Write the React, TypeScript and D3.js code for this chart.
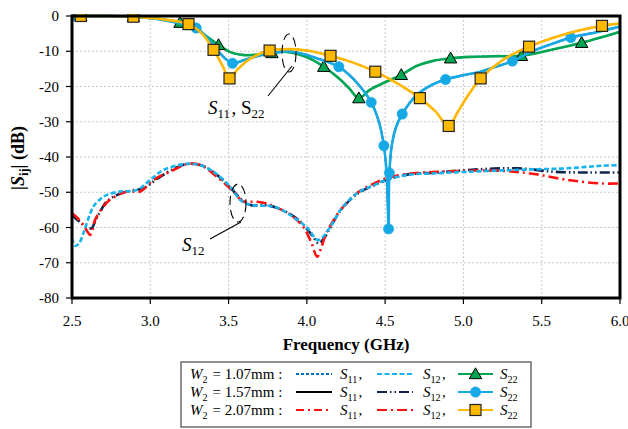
import React from "react";
import * as d3 from "d3";

// Reflection / transmission data, frequency in GHz, magnitude in dB
type Pt = [number, number];

const xTicks = [2.5, 3.0, 3.5, 4.0, 4.5, 5.0, 5.5, 6.0];
const yTicks = [0, -10, -20, -30, -40, -50, -60, -70, -80];

// S22 (S11 follows the same trace), W2 = 1.07 mm
const s22W107: Pt[] = [
  [2.5, 0], [2.556, 0], [2.7, 0], [2.892, -0.2], [3.05, -0.8], [3.19, -1.9], [3.3, -4],
  [3.436, -8.2], [3.52, -10.4], [3.6, -11.1], [3.7, -10.9], [3.777, -10.5], [3.85, -10.1],
  [3.95, -10.9], [4.03, -12.3], [4.108, -14.4], [4.2, -17.5], [4.27, -20.5], [4.332, -23.3],
  [4.4, -21], [4.5, -18.8], [4.603, -16.7], [4.7, -14.2], [4.8, -12.8], [4.918, -12],
  [5.05, -11.6], [5.2, -11.4], [5.371, -11.3], [5.55, -9.7], [5.755, -7.6], [5.9, -5.8], [6.0, -4.5],
];
const s22W107Markers = [2.556, 2.892, 3.19, 3.436, 3.777, 4.108, 4.332, 4.603, 4.918, 5.371, 5.755];

// W2 = 1.57 mm
const s22W157: Pt[] = [
  [2.5, 0], [2.52, 0], [2.7, 0], [2.892, -0.2], [3.05, -0.9], [3.18, -2], [3.293, -3.4],
  [3.38, -7], [3.45, -10.8], [3.525, -13.4], [3.6, -12.5], [3.7, -11.2], [3.8, -10.4],
  [3.88, -10], [3.95, -10.5], [4.05, -11.8], [4.204, -14.4], [4.3, -18], [4.411, -24.5],
  [4.46, -30], [4.492, -36.8], [4.51, -45], [4.522, -60.4], [4.527, -44.5], [4.545, -36],
  [4.57, -31.5], [4.609, -27.8], [4.7, -22.5], [4.8, -19.5], [4.886, -18], [5.0, -16.8],
  [5.11, -15.8], [5.2, -14.5], [5.313, -12.8], [5.45, -9.8], [5.6, -7.4], [5.686, -6.1],
  [5.85, -4.6], [6.0, -3.0],
];
const s22W157Markers = [2.52, 3.293, 3.525, 4.204, 4.411, 4.492, 4.522, 4.527, 4.609, 4.886, 5.313, 5.686];

// W2 = 2.07 mm
const s22W207: Pt[] = [
  [2.5, 0], [2.556, 0], [2.7, 0], [2.892, -0.2], [3.05, -0.8], [3.244, -2.3], [3.33, -5],
  [3.404, -9.6], [3.46, -14], [3.506, -17.7], [3.56, -15], [3.65, -11.8], [3.762, -9.8],
  [3.9, -9.4], [4.0, -9.8], [4.151, -11.3], [4.3, -13.3], [4.437, -15.8], [4.58, -19.2],
  [4.722, -23.3], [4.82, -27], [4.906, -31.2], [4.96, -27.5], [5.03, -22.5], [5.11, -17.7],
  [5.25, -12.5], [5.419, -8.7], [5.6, -5.8], [5.75, -4], [5.885, -2.8], [6.0, -2.1],
];
const s22W207Markers = [2.556, 2.892, 3.244, 3.404, 3.506, 3.762, 4.151, 4.437, 4.722, 4.906, 5.11, 5.419, 5.885];

// S12
const s12W107: Pt[] = [
  [2.5, -63], [2.52, -65.2], [2.545, -64.5], [2.572, -61.7], [2.6, -58], [2.636, -54.1],
  [2.68, -52], [2.72, -50.8], [2.807, -49.8], [2.914, -49.4], [3.0, -46.5], [3.084, -43.7],
  [3.212, -42], [3.276, -42], [3.33, -42.5], [3.404, -44.2], [3.51, -48.4], [3.575, -52.2],
  [3.64, -53.6], [3.79, -54.1], [3.895, -56.5], [4.0, -60], [4.066, -63.5], [4.09, -63.2],
  [4.15, -59.8], [4.215, -55], [4.32, -50.3], [4.428, -48], [4.51, -46.5], [4.64, -45.1],
  [4.83, -44.6], [5.025, -44.2], [5.25, -43.8], [5.45, -43.5], [5.665, -43.2], [5.878, -42.5],
  [6.0, -42.3],
];
const s12W157: Pt[] = [
  [2.5, -56.5], [2.56, -58.8], [2.6, -60], [2.626, -60.2], [2.65, -58], [2.68, -55.5],
  [2.72, -52.7], [2.786, -50.8], [2.87, -49.6], [2.956, -48.9], [3.05, -46], [3.148, -43.4],
  [3.234, -42], [3.32, -42.3], [3.404, -44.3], [3.51, -48.6], [3.58, -52], [3.64, -53.6],
  [3.75, -53.7], [3.85, -55.2], [3.95, -58], [4.03, -62], [4.076, -64.5], [4.11, -63],
  [4.15, -60], [4.215, -55.2], [4.32, -50.5], [4.43, -48], [4.51, -46.5], [4.64, -45],
  [4.83, -44.4], [5.025, -43.7], [5.345, -43.2], [5.58, -44.2], [5.8, -44.4], [6.0, -44.4],
];
const s12W207: Pt[] = [
  [2.5, -56], [2.535, -57.3], [2.572, -59.3], [2.6, -61.3], [2.615, -62.1], [2.632, -60.5],
  [2.647, -57.9], [2.7, -54.1], [2.74, -52.2], [2.85, -49.8], [2.935, -49.8], [3.02, -46.5],
  [3.148, -43.7], [3.234, -42], [3.32, -42.3], [3.426, -45.6], [3.53, -49.8], [3.59, -52.5],
  [3.68, -52.7], [3.75, -53.3], [3.8, -54.2], [3.9, -56.5], [3.98, -60], [4.03, -64.5],
  [4.066, -68.3], [4.09, -66], [4.12, -62], [4.15, -59.5], [4.215, -55], [4.32, -50.2],
  [4.43, -47.5], [4.51, -46], [4.64, -44.8], [4.83, -44.2], [5.025, -43.9], [5.24, -43.9],
  [5.45, -44.8], [5.665, -46.5], [5.878, -47.5], [6.0, -47.5],
];

const widths = ["1.07", "1.57", "2.07"];

const FONT = "'Liberation Serif', 'Times New Roman', serif";
const W = 628;
const H = 429;
const M = { left: 72, right: 620, top: 16, bottom: 298 };

const x = d3.scaleLinear().domain([2.5, 6.0]).range([M.left, M.right]);
const y = d3.scaleLinear().domain([-80, 0]).range([M.bottom, M.top]);
const line = d3
  .line<Pt>()
  .x((d) => x(d[0]))
  .y((d) => y(d[1]))
  .curve(d3.curveCatmullRom.alpha(0.5));

const C = {
  green: "#00A651",
  blue: "#17A9E6",
  yellow: "#FFB900",
  dBlue: "#0070C0",
  lBlue: "#14B4F0",
  navy: "#0F2550",
  red: "#FF1010",
};

const styles = {
  s11: [
    { stroke: C.dBlue, dash: "3,2", w: 1.8 },
    { stroke: "#000", dash: undefined, w: 1.8 },
    { stroke: C.red, dash: "8,4,2,4", w: 1.8 },
  ],
  s12: [
    { stroke: C.lBlue, dash: "5,2.5", w: 2.6 },
    { stroke: C.navy, dash: "10,3,1.5,3,1.5,3", w: 2.6 },
    { stroke: C.red, dash: "10,4,2,4", w: 2.6 },
  ],
  s22: [
    { stroke: C.green, w: 2.6 },
    { stroke: C.blue, w: 2.6 },
    { stroke: C.yellow, w: 2.6 },
  ],
};

function Marker({ kind, cx, cy }: { kind: number; cx: number; cy: number }) {
  if (kind === 0) {
    const s = 6.2;
    const p = `M${cx},${cy - s} L${cx + s},${cy + s * 0.75} L${cx - s},${cy + s * 0.75} Z`;
    return <path d={p} fill={C.green} stroke="#000" strokeWidth={1} />;
  }
  if (kind === 1) return <circle cx={cx} cy={cy} r={5.2} fill={C.blue} stroke={C.blue} strokeWidth={0.5} />;
  return <rect x={cx - 5.5} y={cy - 5.5} width={11} height={11} fill={C.yellow} stroke="#222" strokeWidth={1.2} />;
}

function markerPoints(data: Pt[], freqs: number[]): Pt[] {
  return freqs.map((f) => data.find((d) => d[0] === f)!).filter(Boolean);
}

function Sub({ s, sub, italic = true, size = 0.68, shift = 4 }: { s: string; sub: string; italic?: boolean; size?: number; shift?: number }) {
  return (
    <>
      <tspan fontStyle={italic ? "italic" : "normal"}>{s}</tspan>
      <tspan dy={shift} fontSize={`${size}em`}>{sub}</tspan>
      <tspan dy={-shift}>{"\u200A"}</tspan>
    </>
  );
}

export default function App() {
  const s22 = [s22W107, s22W157, s22W207];
  const s22m = [s22W107Markers, s22W157Markers, s22W207Markers];
  const s12 = [s12W107, s12W157, s12W207];

  const legendRows = [379, 397, 415];

  return (
    <svg
      width={W}
      height={H}
      viewBox={`0 0 ${W} ${H}`}
      style={{ position: "absolute", left: 0, top: 0, background: "#fff" }}
      fontFamily={FONT}
    >
      <defs>
        <clipPath id="plotClip">
          <rect x={M.left} y={M.top - 2} width={M.right - M.left} height={M.bottom - M.top + 2} />
        </clipPath>
      </defs>

      {/* grid */}
      <g stroke="#c8c8c8" strokeWidth={1} strokeDasharray="2,2">
        {xTicks.slice(1, -1).map((t) => (
          <line key={`gx${t}`} x1={x(t)} x2={x(t)} y1={M.top} y2={M.bottom} />
        ))}
        {yTicks.slice(1, -1).map((t) => (
          <line key={`gy${t}`} x1={M.left} x2={M.right} y1={y(t)} y2={y(t)} />
        ))}
      </g>

      <g clipPath="url(#plotClip)" fill="none">
        {/* S11 traces lie beneath the matching S22 traces */}
        {s22.map((d, i) => (
          <path key={`s11${i}`} d={line(d)!} stroke={styles.s11[i].stroke} strokeWidth={styles.s11[i].w} strokeDasharray={styles.s11[i].dash} />
        ))}
        {/* S12 */}
        {[1, 2, 0].map((i) => (
          <path key={`s12${i}`} d={line(s12[i])!} stroke={styles.s12[i].stroke} strokeWidth={styles.s12[i].w} strokeDasharray={styles.s12[i].dash} />
        ))}
        {/* S22 with markers */}
        {s22.map((d, i) => (
          <g key={`s22${i}`}>
            <path d={line(d)!} stroke={styles.s22[i].stroke} strokeWidth={styles.s22[i].w} />
            {markerPoints(d, s22m[i]).map((p, k) => (
              <Marker key={k} kind={i} cx={x(p[0])} cy={y(p[1])} />
            ))}
          </g>
        ))}
      </g>

      {/* frame and ticks */}
      <rect x={M.left} y={M.top} width={M.right - M.left} height={M.bottom - M.top} fill="none" stroke="#000" strokeWidth={3} />
      <g stroke="#000" strokeWidth={1.2}>
        {yTicks.map((t) => (
          <line key={`ty${t}`} x1={M.left - 6} x2={M.left} y1={y(t)} y2={y(t)} />
        ))}
        {xTicks.map((t) => (
          <line key={`tx${t}`} x1={x(t)} x2={x(t)} y1={M.bottom} y2={M.bottom + 6} />
        ))}
      </g>
      <g fontSize={15} fill="#000">
        {yTicks.map((t) => (
          <text key={`ly${t}`} x={59} y={y(t) + 5} textAnchor="end">
            {t}
          </text>
        ))}
        {xTicks.map((t) => (
          <text key={`lx${t}`} x={x(t)} y={326} textAnchor="middle">
            {t.toFixed(1)}
          </text>
        ))}
      </g>

      {/* axis titles */}
      <text x={346} y={350} textAnchor="middle" fontSize={17} fontWeight="bold">
        Frequency (GHz)
      </text>
      <text transform="translate(24,158) rotate(-90)" textAnchor="middle" fontSize={18} fontWeight="bold">
        |<tspan fontStyle="italic">S</tspan>
        <tspan dy={4} fontSize="0.7em">ij</tspan>
        <tspan dy={-4}>| (dB)</tspan>
      </text>

      {/* annotations */}
      <g fill="none" stroke="#000" strokeWidth={1.1}>
        <ellipse cx={289} cy={53} rx={7} ry={19} strokeDasharray="9,5" />
        <line x1={292} y1={66} x2={268} y2={96} />
        <ellipse cx={238} cy={203} rx={8} ry={19} strokeDasharray="9,5" />
        <line x1={241} y1={222} x2={210} y2={239} />
      </g>
      <text x={208} y={114} fontSize={19}>
        <Sub s="S" sub="11" />
        <tspan>, </tspan>
        <Sub s="S" sub="22" italic={false} />
      </text>
      <text x={182} y={251} fontSize={19}>
        <Sub s="S" sub="12" />
      </text>

      {/* legend */}
      <rect x={181} y={362} width={350} height={65} fill="#fff" stroke="#555" strokeWidth={1.3} />
      {widths.map((w, i) => {
        const by = legendRows[i];
        const ly = by - 5;
        return (
          <g key={`lg${w}`} fontSize={15}>
            <text x={190} y={by}>
              <Sub s="W" sub="2" />
              <tspan>{` = ${w}mm :`}</tspan>
            </text>
            <line x1={296} x2={332} y1={ly} y2={ly} stroke={styles.s11[i].stroke} strokeWidth={styles.s11[i].w} strokeDasharray={styles.s11[i].dash} />
            <text x={340} y={by}>
              <Sub s="S" sub="11" />
              <tspan>,</tspan>
            </text>
            <line x1={377} x2={413} y1={ly} y2={ly} stroke={styles.s12[i].stroke} strokeWidth={styles.s12[i].w - 0.6} strokeDasharray={styles.s12[i].dash} />
            <text x={423} y={by}>
              <Sub s="S" sub="12" />
              <tspan>,</tspan>
            </text>
            <line x1={458} x2={493} y1={ly} y2={ly} stroke={styles.s22[i].stroke} strokeWidth={2} />
            <Marker kind={i} cx={475.5} cy={ly} />
            <text x={500} y={by}>
              <Sub s="S" sub="22" />
            </text>
          </g>
        );
      })}
    </svg>
  );
}
